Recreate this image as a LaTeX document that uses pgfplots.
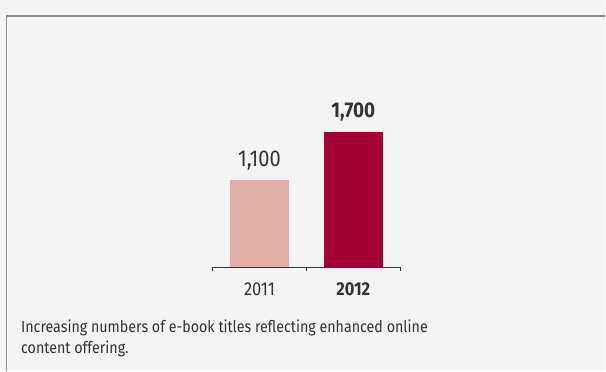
\documentclass[border=0pt]{standalone}
\usepackage{fontspec}
\setmainfont{Fira Sans}[FakeStretch=0.88]
\usepackage{pgfplots}
\pgfplotsset{compat=1.18}
\definecolor{bg}{HTML}{F4F4F4}
\definecolor{framec}{HTML}{8A8A8A}
\definecolor{lightbar}{HTML}{E0ADA8}
\definecolor{darkbar}{HTML}{A50034}
\definecolor{txt}{HTML}{333333}
\begin{document}
\begin{tikzpicture}[x=1bp,y=1bp]
\fill[bg] (0,0) rectangle (606,372);
\draw[framec, line width=1.5bp] (6.5,0) -- (6.5,356) -- (606.5,356);
\begin{axis}[
  at={(213bp,104bp)}, anchor=south west,
  scale only axis, width=188bp, height=136bp,
  xmin=-0.5, xmax=1.5, ymin=0, ymax=1700,
  axis x line*=bottom, axis y line=none,
  x axis line style={draw=txt, line width=1bp},
  xtick={0,1}, xticklabels={2011,\textbf{2012}},
  major tick length=0pt,
  minor xtick={-0.5,0.5,1.5}, minor tick length=4bp,
  tick align=outside,
  minor x tick style={draw=txt, line width=0.8bp},
  xticklabel style={font=\fontsize{18.8}{18.8}\selectfont, text=txt, anchor=base, yshift=-28.6bp},
  ybar, bar width=59bp, bar shift=0pt,
  clip=false,
  /pgf/number format/assume math mode=true,
  /pgf/number format/1000 sep={,},
]
\addplot[fill=lightbar, draw=none, nodes near coords,
  every node near coord/.append style={font=\fontsize{23}{23}\selectfont, text=txt, anchor=base, yshift=13bp}]
  coordinates {(0,1100)};
\addplot[fill=darkbar, draw=none, nodes near coords,
  every node near coord/.append style={font=\fontsize{21.5}{21.5}\selectfont\bfseries, text=txt, anchor=base, yshift=14.3bp}]
  coordinates {(1,1700)};
\end{axis}
\node[anchor=base west, inner sep=0, font=\fontsize{16.3}{16.3}\selectfont, text=txt] at (21,38.5) {Increasing numbers of e-book titles reflecting enhanced online};
\node[anchor=base west, inner sep=0, font=\fontsize{16.3}{16.3}\selectfont, text=txt] at (21,17.5) {content offering.};
\end{tikzpicture}
\end{document}
